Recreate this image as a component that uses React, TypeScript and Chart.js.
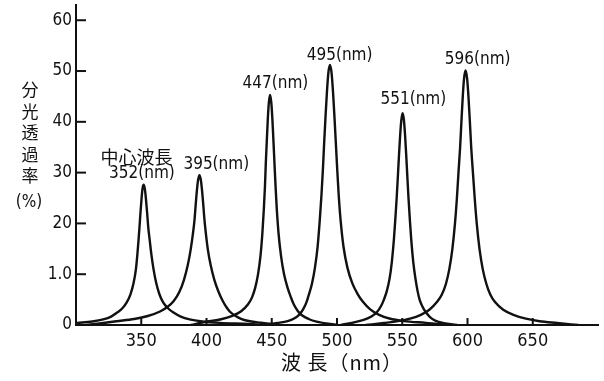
import React, { useEffect, useRef } from "react";
import { Chart, registerables } from "chart.js";
Chart.register(...registerables);

// ---- data (wavelength nm, transmittance %) ----
const xTickValues = [350, 400, 450, 500, 550, 600, 650];
const yTickValues = [0, 10, 20, 30, 40, 50, 60];
const yTickLabels = ["0", "1.0", "20", "30", "40", "50", "60"];

const curve352: [number, number][] = [
  [300.8, 0.41], [312.5, 0.69], [320.9, 1.1], [326.9, 1.66], [331.8, 2.5], [335.55, 3.3],
  [338.74, 4.4], [341.82, 6.1], [344.16, 8.3], [345.92, 11.0], [347.0, 13.8], [347.88, 16.6],
  [348.66, 19.3], [349.4, 22.1], [350.2, 24.8], [350.95, 26.8], [351.8, 27.6],
  [352.75, 26.8], [353.6, 24.8], [354.5, 22.1], [355.34, 19.3], [356.53, 16.6], [357.8, 13.8],
  [359.4, 11.0], [361.43, 8.3], [363.85, 6.1], [366.9, 4.4], [370.5, 3.3], [374.4, 2.5],
  [380.3, 1.66], [387.1, 1.1], [396.8, 0.69], [410.1, 0.41], [432.0, 0.22], [445, 0],
];
const curve395: [number, number][] = [
  [308, 0], [318, 0.3], [330.9, 0.74], [344.6, 1.18], [355.0, 1.77], [364.4, 2.66], [370.0, 3.54],
  [374.9, 4.72], [379.16, 6.49], [382.68, 8.85], [385.66, 11.8], [387.8, 14.75], [389.46, 17.7],
  [390.8, 20.65], [391.7, 23.6], [392.67, 26.55], [393.58, 28.6], [394.6, 29.5],
  [395.64, 28.6], [396.56, 26.55], [397.55, 23.6], [398.46, 20.65], [399.66, 17.7], [401.1, 14.75],
  [403.18, 11.8], [406.06, 8.85], [409.29, 6.49], [412.47, 4.72], [415.18, 3.54], [417.8, 2.66],
  [422.3, 1.77], [426.9, 1.18], [433.3, 0.74], [441.6, 0.44], [455, 0],
];
const curve447: [number, number][] = [
  [388, 0], [400.1, 0.68], [411.2, 1.13], [419.8, 1.81], [426.54, 2.72], [431.85, 4.08],
  [434.89, 5.44], [437.24, 7.25], [439.47, 9.97], [441.37, 13.6], [442.82, 18.1], [443.9, 22.65],
  [444.78, 27.2], [445.42, 31.7], [446.2, 36.2], [447.03, 40.8], [447.82, 43.9], [448.7, 45.3],
  [449.62, 43.9], [450.43, 40.8], [451.3, 36.2], [452.11, 31.7], [452.94, 27.2], [453.9, 22.65],
  [455.19, 18.1], [457.1, 13.6], [459.43, 9.97], [462.22, 7.25], [464.68, 5.44], [466.83, 4.08],
  [470.07, 2.72], [473.68, 1.81], [478.68, 1.13], [484.35, 0.68], [500, 0],
];
const curve495: [number, number][] = [
  [442, 0], [454.5, 0.41], [462.2, 0.77], [467.12, 1.28], [471.08, 2.05], [474.02, 3.07],
  [476.79, 4.61], [478.62, 6.14], [480.85, 8.19], [483.11, 11.3], [485.13, 15.4], [486.76, 20.5],
  [488.1, 25.6], [489.21, 30.7], [490.15, 35.8], [491.2, 41.0], [492.34, 46.1], [493.4, 49.7],
  [494.6, 51.2],
  [495.81, 49.7], [496.9, 46.1], [498.05, 41.0], [499.12, 35.8], [500.15, 30.7], [501.3, 25.6],
  [502.81, 20.5], [504.99, 15.4], [507.97, 11.3], [511.78, 8.19], [515.72, 6.14], [519.72, 4.61],
  [525.47, 3.07], [531.83, 2.05], [540.19, 1.28], [551.32, 0.77], [568.1, 0.41], [585, 0],
];
const curve551: [number, number][] = [
  [503, 0], [514.65, 0.63], [520.95, 1.04], [526.3, 1.67], [530.51, 2.5], [533.76, 3.75],
  [535.95, 5.0], [538.16, 6.67], [540.32, 9.17], [542.05, 12.5], [543.56, 16.7], [544.7, 20.85],
  [545.73, 25.0], [546.63, 29.2], [547.5, 33.4], [548.43, 37.5], [549.31, 40.4], [550.3, 41.7],
  [551.27, 40.4], [552.13, 37.5], [553.05, 33.4], [553.9, 29.2], [554.79, 25.0], [555.8, 20.85],
  [556.92, 16.7], [558.4, 12.5], [560.09, 9.17], [561.76, 6.67], [563.3, 5.0], [565.25, 3.75],
  [568.11, 2.5], [570.88, 1.67], [574.03, 1.04], [577.85, 0.63], [592, 0],
];
const curve596: [number, number][] = [
  [522, 0], [536.1, 0.4], [546.64, 0.75], [556.03, 1.25], [564.21, 2.0], [570.79, 3.01],
  [576.56, 4.51], [580.36, 6.01], [583.38, 8.02], [586.07, 11.0], [588.42, 15.0], [590.41, 20.0],
  [591.9, 25.05], [593.11, 30.1], [594.37, 35.1], [595.35, 40.1], [596.4, 45.1], [597.39, 48.6],
  [598.5, 50.1],
  [599.66, 48.6], [600.7, 45.1], [601.8, 40.1], [602.82, 35.1], [604.13, 30.1], [605.5, 25.05],
  [607.08, 20.0], [609.2, 15.0], [611.68, 11.0], [614.54, 8.02], [617.46, 6.01], [621.08, 4.51],
  [627.39, 3.01], [635.24, 2.0], [644.71, 1.25], [655.22, 0.75], [668.7, 0.4], [685, 0],
];

const curves = [curve352, curve395, curve447, curve495, curve551, curve596];

const peakLabelTexts = ["352(nm)", "395(nm)", "447(nm)", "495(nm)", "551(nm)", "596(nm)"];
const peakLabelAnchors: [number, number][] = [
  [350.5, 29.9], [407.5, 31.5], [452.8, 47.6], [502, 53.1], [558.5, 44.3], [607.8, 52.2],
];
const centerLabel = "中心波長";
const centerLabelAnchor: [number, number] = [346.4, 33.1];
const yTitleChars = ["分", "光", "透", "過", "率"];
const yTitleUnit = "(%)";
const xTitle = "波 長（nm）";

const INK = "#111";
const NUM_FONT = '"DejaVu Sans Condensed", "DejaVu Sans", sans-serif';
const CJK_FONT = '"Noto Sans CJK JP", "Noto Sans CJK SC", sans-serif';

const overlay = {
  id: "overlay",
  afterDraw(chart: any) {
    const { ctx } = chart;
    const x = chart.scales.x;
    const y = chart.scales.y;
    ctx.save();
    ctx.strokeStyle = INK;
    ctx.lineWidth = 2;
    for (const v of yTickValues) {
      const py = y.getPixelForValue(v);
      ctx.beginPath();
      ctx.moveTo(x.left, py);
      ctx.lineTo(x.left + 10, py);
      ctx.stroke();
    }
    for (const v of xTickValues) {
      const px = x.getPixelForValue(v);
      ctx.beginPath();
      ctx.moveTo(px, y.bottom);
      ctx.lineTo(px, y.bottom - 7);
      ctx.stroke();
    }
    ctx.fillStyle = INK;
    ctx.textAlign = "center";
    ctx.textBaseline = "middle";
    ctx.font = `17px ${NUM_FONT}`;
    peakLabelTexts.forEach((t, i) => {
      const [vx, vy] = peakLabelAnchors[i];
      ctx.fillText(t, x.getPixelForValue(vx), y.getPixelForValue(vy));
    });
    ctx.font = `18px ${CJK_FONT}`;
    ctx.fillText(centerLabel, x.getPixelForValue(centerLabelAnchor[0]), y.getPixelForValue(centerLabelAnchor[1]));
    const cx = 30;
    const startY = 90;
    const step = 21.5;
    ctx.font = `17px ${CJK_FONT}`;
    yTitleChars.forEach((c, i) => ctx.fillText(c, cx, startY + i * step));
    ctx.font = `17px ${NUM_FONT}`;
    ctx.fillText(yTitleUnit, 29, 203);
    ctx.font = `20px ${CJK_FONT}`;
    try { (ctx as any).letterSpacing = "1px"; } catch (e) {}
    ctx.fillText(xTitle, 342, 362);
    ctx.restore();
  },
};

export default function App() {
  const ref = useRef<HTMLCanvasElement | null>(null);
  useEffect(() => {
    if (!ref.current) return;
    const chart = new Chart(ref.current, {
      type: "line",
      data: {
        datasets: curves.map((c) => ({
          data: c.map(([vx, vy]) => ({ x: vx, y: vy })),
          borderColor: INK,
          borderWidth: 2.4,
          pointRadius: 0,
          fill: false,
          cubicInterpolationMode: "monotone" as const,
        })),
      },
      options: {
        animation: false,
        responsive: false,
        events: [],
        layout: { padding: { top: 5, right: 6, left: 0, bottom: 0 } },
        plugins: { legend: { display: false }, tooltip: { enabled: false }, title: { display: false } },
        scales: {
          x: {
            type: "linear",
            min: 300,
            max: 700,
            afterBuildTicks: (s: any) => { s.ticks = xTickValues.map((v) => ({ value: v })); },
            afterFit: (s: any) => { s.height = 56; s.paddingLeft = 0; s.paddingRight = 0; },
            grid: { display: false, drawTicks: false },
            border: { display: true, color: INK, width: 2 },
            ticks: {
              color: INK,
              padding: 6,
              maxRotation: 0,
              font: { family: NUM_FONT, size: 18 },
              callback: (v: any) => String(v),
            },
          },
          y: {
            type: "linear",
            min: 0,
            max: 63,
            afterBuildTicks: (s: any) => { s.ticks = yTickValues.map((v) => ({ value: v })); },
            afterFit: (s: any) => { s.width = 76; s.paddingTop = 0; s.paddingBottom = 0; },
            grid: { display: false, drawTicks: false },
            border: { display: true, color: INK, width: 2 },
            ticks: {
              color: INK,
              padding: 4,
              font: { family: NUM_FONT, size: 17 },
              callback: (v: any) => {
                const i = yTickValues.indexOf(Number(v));
                return i >= 0 ? yTickLabels[i] : "";
              },
            },
          },
        },
      },
      plugins: [overlay],
    });
    return () => chart.destroy();
  }, []);
  return (
    <div style={{ position: "fixed", left: 0, top: 0, width: 604, height: 381, background: "#fff" }}>
      <canvas ref={ref} width={604} height={381} />
    </div>
  );
}
